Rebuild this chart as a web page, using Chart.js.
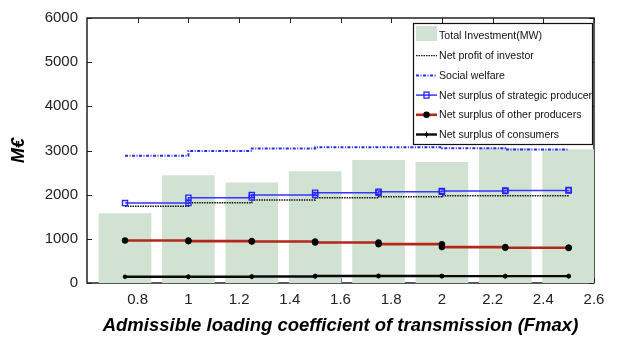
<!DOCTYPE html>
<html>
<head>
<meta charset="utf-8">
<script src="https://cdn.jsdelivr.net/npm/chart.js@4"></script>
<style>
html,body{margin:0;padding:0;background:#fff;}
canvas{display:block;}
</style>
</head>
<body>
<canvas id="c" width="619" height="337"></canvas>
<script>
// ---- data ----
const fmaxValues = [0.75, 1, 1.25, 1.5, 1.75, 2, 2.25, 2.5];
const totalInvestment = [1570, 2430, 2270, 2520, 2780, 2730, 3050, 3020];
const investorProfit = [1740, 1815, 1880, 1930, 1955, 1975, 1975, 1975];
const socialWelfare = [2880, 2990, 3045, 3075, 3075, 3050, 3020, 3020];
const strategicSurplus = [1810, 1933, 1993, 2045, 2067, 2082, 2097, 2105];
const otherSurplus = [963, 948, 940, 918, 880, 813, 799, 797];
const consumerSurplus = [140, 140, 148, 160, 157, 155, 155, 155];
const xTickValues = [0.8, 1, 1.2, 1.4, 1.6, 1.8, 2, 2.2, 2.4, 2.6];
const yTickValues = [0, 1000, 2000, 3000, 4000, 5000, 6000];
const seriesNames = [
  'Total Investment(MW)',
  'Net profit of investor',
  'Social welfare',
  'Net surplus of strategic producer',
  'Net surplus of other producers',
  'Net surplus of consumers'
];

// stair vertices (as a MATLAB stairs plot draws them)
function stairs(xs, ys) {
  const pts = [];
  for (let i = 0; i < xs.length; i++) {
    pts.push({x: xs[i], y: ys[i]});
    if (i < xs.length - 1) pts.push({x: xs[i + 1], y: ys[i]});
  }
  return pts;
}

const FONT = "'Liberation Sans', Arial, Helvetica, sans-serif";
const green = '#d2e2d2';

const datasets = [
  {
    type: 'bar', label: seriesNames[0],
    data: fmaxValues.map((x, i) => ({x: x, y: totalInvestment[i]})),
    backgroundColor: green, borderWidth: 0, barThickness: 52, order: 10
  },
  {
    type: 'line', label: seriesNames[1], data: stairs(fmaxValues, investorProfit),
    borderColor: '#111', borderWidth: 1.5, borderDash: [1.5, 1], pointRadius: 0, order: 5,
    legendSample: {dash: [1.5, 1], width: 1.2}
  },
  {
    type: 'line', label: seriesNames[2], data: stairs(fmaxValues, socialWelfare),
    borderColor: '#2b2bf0', borderWidth: 2, borderDash: [3, 1.5, 1, 1.5], pointRadius: 0, order: 4,
    legendSample: {dash: [3, 1.5, 1, 1.5], width: 2}
  },
  {
    type: 'line', label: seriesNames[3], data: stairs(fmaxValues, strategicSurplus),
    borderColor: '#3535ff', borderWidth: 1.5, pointStyle: 'rect', pointRadius: 3.6,
    pointBorderColor: '#2424ff', pointBackgroundColor: 'rgba(255,255,255,0)', pointBorderWidth: 1.4, order: 3,
    legendSample: {width: 1.5, marker: 'rect'}
  },
  {
    type: 'line', label: seriesNames[4], data: stairs(fmaxValues, otherSurplus),
    borderColor: '#b2281a', borderWidth: 2.6, pointStyle: 'circle', pointRadius: 3,
    pointBorderColor: '#000', pointBackgroundColor: '#000', pointBorderWidth: 0.5, order: 2,
    legendSample: {width: 2.6, marker: 'circle'}
  },
  {
    type: 'line', label: seriesNames[5], data: stairs(fmaxValues, consumerSurplus),
    borderColor: '#0a0a0a', borderWidth: 2.4, pointStyle: 'circle', pointRadius: 2,
    pointBorderColor: '#000', pointBackgroundColor: '#000', pointBorderWidth: 0.5, order: 1,
    legendSample: {width: 2.4, marker: 'small'}
  }
];

// frame with inward ticks (MATLAB box)
const framePlugin = {
  id: 'frame',
  beforeDatasetsDraw(chart) {
    const {ctx, chartArea: a, scales} = chart;
    ctx.save();
    ctx.strokeStyle = '#222';
    ctx.lineWidth = 1.5;
    ctx.strokeRect(a.left, a.top, a.right - a.left, a.bottom - a.top);
    ctx.lineWidth = 1;
    ctx.beginPath();
    xTickValues.forEach(v => {
      const px = Math.round(scales.x.getPixelForValue(v)) + 0.5;
      ctx.moveTo(px, a.top); ctx.lineTo(px, a.top + 5);
      ctx.moveTo(px, a.bottom); ctx.lineTo(px, a.bottom - 5);
    });
    yTickValues.forEach(v => {
      const py = Math.round(scales.y.getPixelForValue(v)) + 0.5;
      ctx.moveTo(a.left, py); ctx.lineTo(a.left + 5, py);
      ctx.moveTo(a.right, py); ctx.lineTo(a.right - 5, py);
    });
    ctx.stroke();
    ctx.restore();
  }
};

// legend box inside the plot (top right)
const legendPlugin = {
  id: 'boxLegend',
  afterDraw(chart) {
    const {ctx, chartArea: a} = chart;
    const bx = a.right - 181, by = a.top + 5, bw = 179, bh = 121;
    ctx.save();
    ctx.fillStyle = '#fff';
    ctx.fillRect(bx, by, bw, bh);
    ctx.strokeStyle = '#111';
    ctx.lineWidth = 1.2;
    ctx.strokeRect(bx + 0.5, by + 0.5, bw, bh);
    ctx.beginPath();
    ctx.rect(bx, by, bw, bh);
    ctx.clip();
    const rowH = 19.7;
    const sx0 = bx + 3, sx1 = bx + 24, tx = bx + 26;
    chart.data.datasets.forEach((ds, i) => {
      const cy = by + 13 + i * rowH;
      if (ds.type === 'bar') {
        ctx.fillStyle = ds.backgroundColor;
        ctx.fillRect(sx0, cy - 10, sx1 - sx0, 15);
      } else {
        const s = ds.legendSample || {};
        ctx.strokeStyle = ds.borderColor;
        ctx.lineWidth = s.width || ds.borderWidth;
        ctx.setLineDash(s.dash || []);
        ctx.beginPath();
        ctx.moveTo(sx0, cy); ctx.lineTo(sx1, cy);
        ctx.stroke();
        ctx.setLineDash([]);
        const mx = (sx0 + sx1) / 2;
        if (s.marker === 'rect') {
          ctx.strokeStyle = ds.pointBorderColor; ctx.lineWidth = 1.3;
          ctx.strokeRect(mx - 2.5, cy - 3, 5, 6);
        } else if (s.marker === 'circle') {
          ctx.fillStyle = '#000';
          ctx.beginPath(); ctx.arc(mx, cy, 3.2, 0, Math.PI * 2); ctx.fill();
        } else if (s.marker === 'small') {
          ctx.fillStyle = '#000';
          ctx.beginPath(); ctx.arc(mx, cy, 1.8, 0, Math.PI * 2); ctx.fill();
          ctx.lineWidth = 1; ctx.strokeStyle = '#000';
          ctx.beginPath(); ctx.moveTo(mx, cy - 3); ctx.lineTo(mx, cy + 3); ctx.stroke();
        }
      }
      ctx.fillStyle = '#111';
      ctx.font = '10.6px ' + FONT;
      ctx.textBaseline = 'middle';
      ctx.textAlign = 'left';
      ctx.fillText(ds.label, tx, cy + 0.5);
    });
    ctx.restore();
  }
};

new Chart(document.getElementById('c'), {
  type: 'bar',
  data: {datasets: datasets},
  options: {
    responsive: false,
    animation: false,
    devicePixelRatio: 1,
    layout: {padding: {left: 0, right: 25, top: 15, bottom: 0}},
    plugins: {legend: {display: false}, tooltip: {enabled: false}},
    scales: {
      x: {
        type: 'linear', min: 0.6, max: 2.6, offset: false,
        grid: {display: false, offset: false, drawTicks: false},
        border: {display: false},
        afterBuildTicks: s => { s.ticks = xTickValues.map(v => ({value: v})); },
        afterFit: s => { s.height = 54; },
        ticks: {
          autoSkip: false, maxRotation: 0, padding: 8,
          color: '#222', font: {family: FONT, size: 15},
          callback: v => String(Number(Number(v).toFixed(1)))
        },
        title: {
          display: true, text: 'Admissible loading coefficient of transmission (Fmax)',
          color: '#000', padding: {top: 0, bottom: 0},
          font: {family: FONT, size: 18.5, weight: 'bold', style: 'italic'}
        }
      },
      y: {
        type: 'linear', min: 0, max: 6000,
        grid: {display: false, drawTicks: false},
        border: {display: false},
        afterBuildTicks: s => { s.ticks = yTickValues.map(v => ({value: v})); },
        afterFit: s => { s.width = 87; },
        ticks: {
          padding: 9, color: '#222', font: {family: FONT, size: 15},
          callback: v => String(v)
        },
        title: {
          display: true, text: 'M€', color: '#000',
          padding: {top: 8, bottom: 0},
          font: {family: FONT, size: 18, weight: 'bold', style: 'italic'}
        }
      }
    }
  },
  plugins: [framePlugin, legendPlugin]
});
</script>
</body>
</html>
